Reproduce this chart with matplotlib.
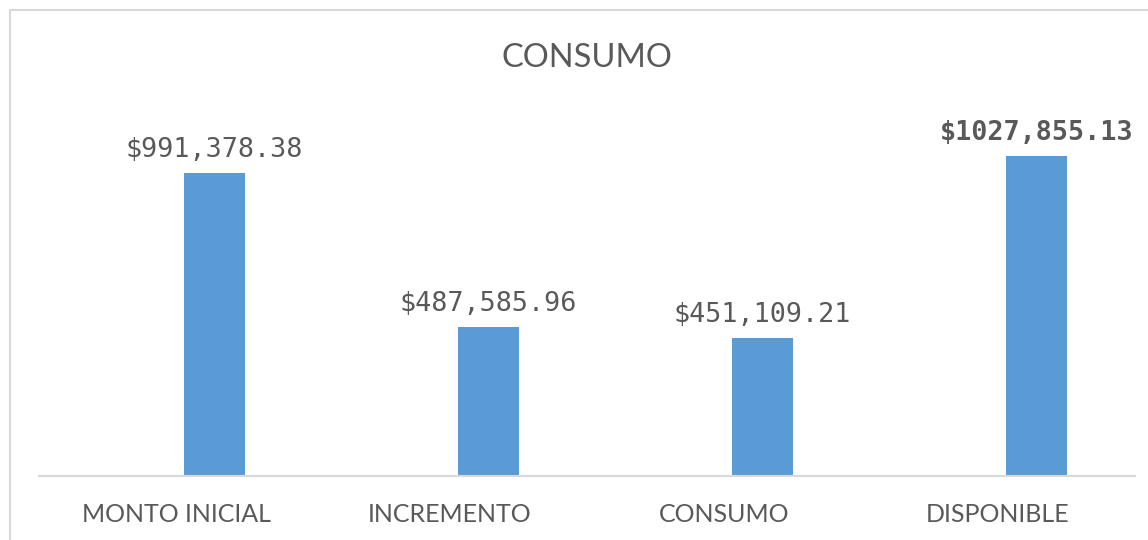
import numpy as np
import matplotlib
matplotlib.use("Agg")
from matplotlib import pyplot as plt
from matplotlib.patches import Rectangle

# datos del grafico
categorias = ["MONTO INICIAL", "INCREMENTO", "CONSUMO", "DISPONIBLE"]
valores = [991378.38, 487585.96, 451109.21, 1047000.0]  # altura de barra
etiquetas = ["$991,378.38", "$487,585.96", "$451,109.21", "$1027,855.13"]
negritas = [False, False, False, True]

gris = "#595959"
azul = "#5B9BD5"

W, H = 1148, 540
fig = plt.figure(figsize=(W / 100, H / 100), dpi=100)

# marco del area del grafico (sigue fuera de la imagen a la derecha y abajo)
fig.add_artist(Rectangle((10 / W, -0.2), 1.2, 1.2 - 10 / H, transform=fig.transFigure,
                         fill=False, edgecolor="#D9D9D9", linewidth=1.5))

ax = fig.add_axes([39 / W, (H - 476) / H, (1135 - 39) / W, (476 - 109) / H])
x = np.arange(len(categorias))
# la serie visible va desplazada dentro de cada categoria (grafico agrupado)
desp = 0.14
barras = ax.bar(x + desp, valores, width=0.22, color=azul, zorder=2)

ax.set_xlim(-0.5, len(categorias) - 0.5)
ax.set_ylim(0, 1200000)
ax.set_yticks([])
for s in ["top", "right", "left"]:
    ax.spines[s].set_visible(False)
ax.spines["bottom"].set_color("#D9D9D9")
ax.spines["bottom"].set_linewidth(1.5)
ax.tick_params(axis="x", length=0, pad=19.5)
ax.set_xticks(x)
ax.set_xticklabels(categorias, fontsize=18, color=gris, family="Lato")

for b, txt, neg in zip(barras, etiquetas, negritas):
    ax.annotate(txt, (b.get_x() + b.get_width() / 2, b.get_height()),
                xytext=(0, 11.5), textcoords="offset points", ha="center", va="baseline",
                fontsize=19.3, color=gris, family="DejaVu Sans Mono",
                fontweight="bold" if neg else "normal")

fig.text(587 / W, 1 - 66.7 / H, "CONSUMO", ha="center", va="baseline",
         fontsize=23.5, color=gris, family="Lato")

fig.savefig("out.png", dpi=100)
